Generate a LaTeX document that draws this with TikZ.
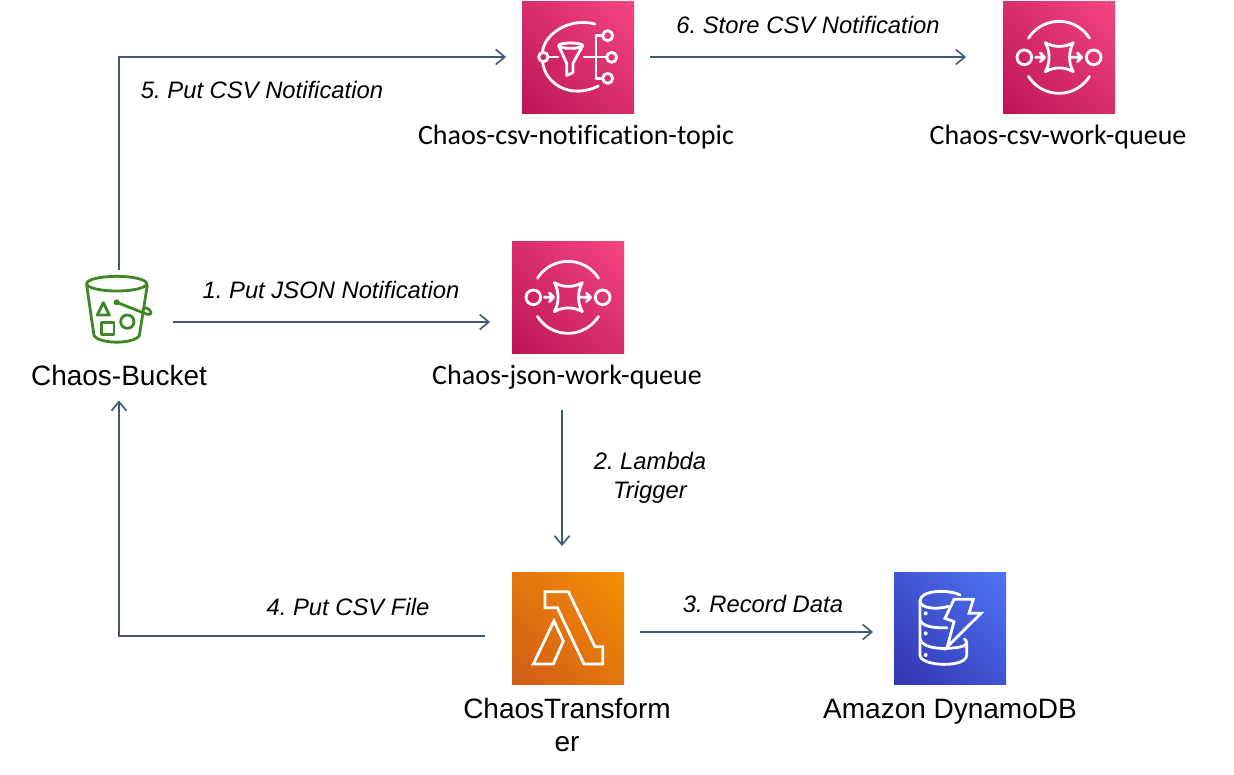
\documentclass[tikz,border=0pt]{standalone}
\usepackage{fontspec}
\setmainfont{Liberation Sans}
\newfontfamily\calib[Ligatures=NoCommon]{Carlito}
\usetikzlibrary{arrows.meta,calc,shadings}
\definecolor{linec}{HTML}{435673}
\definecolor{grn}{HTML}{3F8624}
\definecolor{pinkA}{HTML}{F54582}
\definecolor{pinkB}{HTML}{BB1556}
\definecolor{orgA}{HTML}{F78E04}
\definecolor{orgB}{HTML}{D05C17}
\definecolor{bluA}{HTML}{4F75F5}
\definecolor{bluB}{HTML}{3234B0}
\tikzset{
  flow/.style={draw=linec,line width=1.6pt,-{Straight Barb[length=9pt,width=15pt,line width=1.6pt]}},
  iconbox/.style={minimum size=112pt,inner sep=0pt,outer sep=0pt,shade,
    lower left=#1B,upper right=#1A,upper left=#1A!50!#1B,lower right=#1A!50!#1B},
  glyph/.style={draw=white,line width=2.8pt,line cap=round,line join=round},
  bkt/.style={draw=grn,line width=2.8pt,line join=round,line cap=round},
  flowlabel/.style={font=\itshape\frenchspacing\fontsize{23.8}{29}\selectfont,align=center,inner sep=0pt},
  svc/.style={font=\calib\fontsize{28}{32}\selectfont,inner sep=0pt},
  big/.style={font=\fontsize{28}{33}\selectfont,align=center,inner sep=0pt},
  ghost/.style={inner sep=0pt,outer sep=0pt}
}
\newcommand{\queueglyph}[2]{%
  \begin{scope}[shift={(#1,#2)},x=0.3333pt,y=-0.3333pt]
    \draw[glyph] (112.4,129.8) arc[start angle=212,end angle=328,radius=108];
    \draw[glyph] (112.4,244.2) arc[start angle=148,end angle=32,radius=108];
    \draw[glyph] (100,187) circle[radius=22];
    \draw[glyph] (308,187) circle[radius=22];
    \draw[glyph] (133,187) -- (160,187) (148,174) -- (161,187) -- (148,200);
    \draw[glyph] (242,187) -- (272,187) (259,174) -- (272,187) -- (259,200);
    \draw[glyph] (163,143) .. controls (190,158) and (220,158) .. (247,143)
      .. controls (232,170) and (232,205) .. (247,230)
      .. controls (220,215) and (190,215) .. (163,230)
      .. controls (178,205) and (178,170) .. cycle;
  \end{scope}}
\begin{document}
\begin{tikzpicture}[x=1pt,y=-1pt]
\useasboundingbox (0,0) rectangle (1234,774);
\fill[white] (0,0) rectangle (1234,774);

% service boxes
\node[iconbox=pink] (topic) at (578,57) {};
\node[iconbox=pink] (csvq) at (1059,57) {};
\node[iconbox=pink] (jsonq) at (568,297) {};
\node[iconbox=org] (lambda) at (568,628) {};
\node[iconbox=blu] (ddb) at (950,628) {};
\node[ghost,minimum width=68pt,minimum height=76pt] (bucket) at (119,308) {};

% topic glyph
\begin{scope}[shift={(500,0)},x=0.3333pt,y=-0.3333pt]
  \draw[glyph] (285,72) .. controls (200,50) and (130,110) .. (128,155);
  \draw[glyph] (128,187) .. controls (135,250) and (210,300) .. (295,258);
  \draw[glyph] (130,171) circle[radius=14];
  \draw[glyph] (146,171) -- (174,171);
  \draw[glyph] (212,137) ellipse[x radius=36,y radius=8];
  \draw[glyph] (176,137) -- (200,190) -- (200,226) -- (219,218) -- (219,190) -- (248,137);
  \draw[glyph] (252,171) -- (318,171);
  \draw[glyph] (288,107) -- (288,235);
  \draw[glyph] (288,107) -- (308,107) (288,235) -- (308,235);
  \draw[glyph] (323,107) circle[radius=15];
  \draw[glyph] (335,172) circle[radius=15];
  \draw[glyph] (323,235) circle[radius=15];
\end{scope}

\queueglyph{500}{235}
\queueglyph{991}{-5}

% lambda glyph
\begin{scope}[shift={(500,565)},x=0.3333pt,y=-0.3333pt]
  \draw[glyph,line cap=butt,line join=miter] (135,80) -- (205,80) -- (285,245) -- (308,245) -- (308,297) -- (252,297) -- (172,128) -- (135,128) -- cycle;
  \draw[glyph,line cap=butt,line join=miter] (100,297) -- (162,168) -- (190,228) -- (160,297) -- cycle;
\end{scope}

% dynamodb glyph
\begin{scope}[shift={(885,565)},x=0.3333pt,y=-0.3333pt]
  \draw[glyph] (225,90) .. controls (190,72) and (105,75) .. (105,108) -- (105,270)
     .. controls (105,305) and (245,310) .. (245,270) -- (245,232);
  \draw[glyph] (105,108) .. controls (105,130) and (155,135) .. (190,124);
  \draw[glyph] (105,165) .. controls (112,185) and (150,190) .. (186,188);
  \draw[glyph] (105,222) .. controls (112,245) and (150,252) .. (190,250)
     .. controls (220,248) and (245,245) .. (245,232) .. controls (245,228) and (242,225) .. (238,222);
  \fill[white] (122,145) circle[radius=6] (122,205) circle[radius=6] (122,270) circle[radius=6];
  \draw[glyph,line cap=butt,line join=miter] (207,103) -- (265,103) -- (252,145) -- (288,145) -- (187,245) -- (207,170) -- (180,160) -- cycle;
\end{scope}

% bucket glyph
\begin{scope}[shift={(70,265)},x=0.3333pt,y=-0.3333pt]
  \draw[bkt] (140,56) ellipse[x radius=90,y radius=22];
  \draw[bkt] (50,60) -- (72,212) .. controls (90,238) and (190,238) .. (208,212) -- (232,60);
  \draw[bkt] (100,113) -- (82,150) -- (118,150) -- cycle;
  \draw[bkt] (95,172) rectangle (132,208);
  \draw[bkt] (172,170) circle[radius=20];
  \fill[grn] (140,112) circle[radius=9];
  \draw[bkt] (140,112) -- (232,148) .. controls (248,152) and (248,135) .. (226,128);
\end{scope}

% service labels
\node[big,anchor=base] (lbucket) at (119,385) {Chaos-Bucket};
\node[svc,anchor=base] (ltopic) at (576,144) {Chaos-csv-notification-topic};
\node[svc,anchor=base] (lcsvq) at (1058,144) {Chaos-csv-work-queue};
\node[svc,anchor=base] (ljsonq) at (567,384) {Chaos-json-work-queue};
\node[big,anchor=base] (llambda) at (567,751) {ChaosTransform\\er};
\node[big,anchor=base] (lddb) at (950,718) {Amazon DynamoDB};

% connectors
\draw[flow] ([shift={(20,14)}]bucket.east) -- ([shift={(-22,25)}]jsonq.west);
\draw[flow] (bucket.north) |- ([shift={(-16,0)}]topic.west);
\draw[flow] ([shift={(16,0)}]topic.east) -- ([shift={(-37,0)}]csvq.west);
\draw[flow] ([shift={(-6,57)}]jsonq.south) -- ([shift={(-6,-26)}]lambda.north);
\draw[flow] ([shift={(16,4)}]lambda.east) -- ([shift={(-21,4)}]ddb.west);
\draw[flow] ([shift={(-27,8)}]lambda.west) -| ([shift={(0,15)}]lbucket.south);

% connector labels
\node[flowlabel] (t5) at (262,90) {5. Put CSV Notification};
\node[flowlabel] (t6) at (808,25) {6. Store CSV Notification};
\node[flowlabel] (t1) at (331,290) {1. Put JSON Notification};
\node[flowlabel] (t2) at (650,478) {2. Lambda\\Trigger};
\node[flowlabel] (t4) at (348,607) {4. Put CSV File};
\node[flowlabel] (t3) at (763,604) {3. Record Data};
\end{tikzpicture}
\end{document}
